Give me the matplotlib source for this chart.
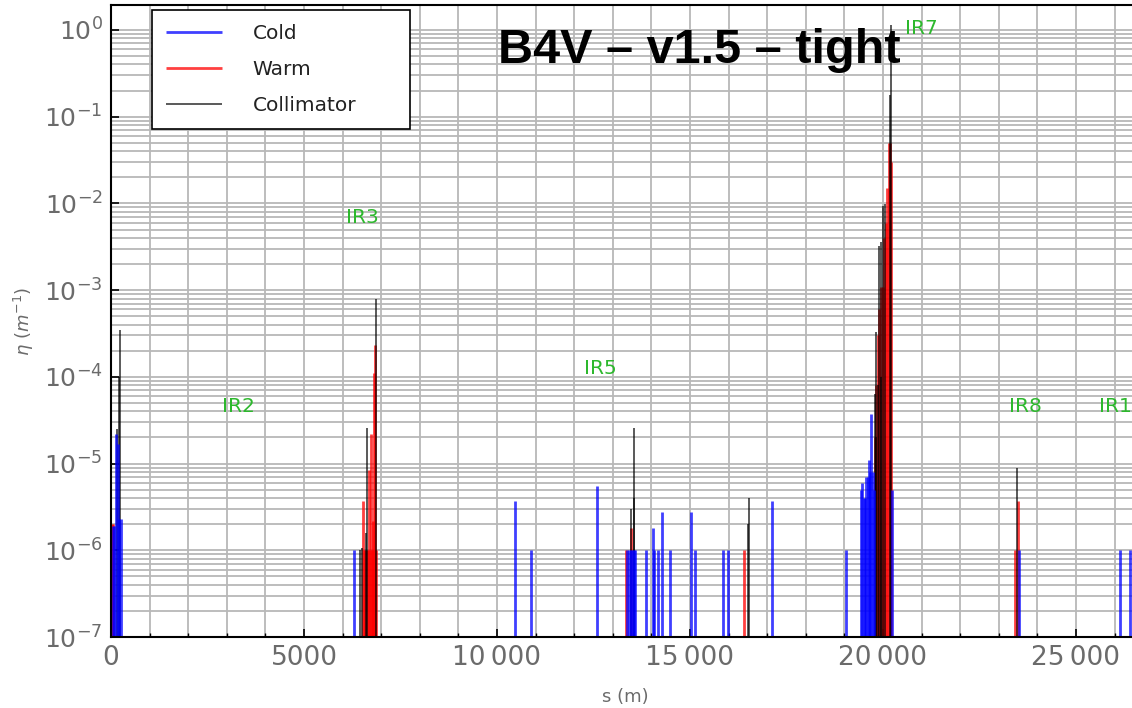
import matplotlib
matplotlib.use('Agg')
import matplotlib.pyplot as plt
from matplotlib.ticker import MultipleLocator, FuncFormatter, LogLocator

# loss positions (m) and local cleaning inefficiency eta (1/m)
cold_s = [50, 90, 140, 170, 220, 250, 6290, 10460, 10890, 12600,
          13380, 13420, 13460, 13500, 13540, 13580, 13850, 14050, 14070, 14170,
          14270, 14480, 15020, 15130, 15860, 15980, 17130, 19040, 19430, 19460,
          19500, 19530, 19570, 19600, 19640, 19670, 19700, 19740, 19770, 20240,
          23520, 26150, 26400]
cold_eta = [1.9e-6, 1.9e-6, 2.2e-5, 1.7e-5, 2.3e-6, 2.3e-6, 1e-6, 3.7e-6, 1e-6, 5.5e-6,
            1e-6, 1e-6, 1e-6, 1e-6, 1e-6, 1e-6, 1e-6, 1.8e-6, 1e-6, 1e-6,
            2.8e-6, 1e-6, 2.8e-6, 1e-6, 1e-6, 1e-6, 3.7e-6, 1e-6, 5e-6, 6e-6,
            4e-6, 4e-6, 7e-6, 7e-6, 1.1e-5, 8e-6, 3.7e-5, 8e-6, 5e-6, 5e-6,
            1e-6, 1e-6, 1e-6]

warm_s = [15, 40, 6540, 6560, 6590, 6620, 6650, 6680, 6710, 6730,
          6760, 6780, 6800, 6820, 6850, 6870, 13340, 13480, 16410, 19790,
          19830, 19870, 19910, 19950, 19990, 20030, 20070, 20110, 20150, 20190,
          20215, 23430, 23500]
warm_eta = [2e-6, 2e-6, 3.7e-6, 1e-6, 1e-6, 1e-6, 1e-6, 8.5e-6, 1e-6, 2.2e-5,
            1e-6, 2.2e-6, 1e-6, 1.1e-4, 2.3e-4, 1e-6, 1e-6, 1.8e-6, 1e-6, 2e-5,
            8e-5, 3e-4, 6e-4, 1.1e-3, 1.1e-3, 4e-3, 6e-3, 1.5e-2, 5e-2, 5e-2,
            3e-2, 1e-6, 3.7e-6]

coll_s = [160, 215, 225, 6450, 6490, 6600, 6640, 6870, 13460, 13540,
          13560, 16500, 16520, 19790, 19810, 19830, 19860, 19900, 19940, 19960,
          20000, 20050, 20180, 20220, 23460]
coll_eta = [2.5e-5, 1e-4, 3.5e-4, 1e-6, 1.05e-6, 1.6e-6, 2.6e-5, 8e-4, 3e-6, 4e-6,
            2.6e-5, 2e-6, 4e-6, 6.3e-5, 2e-5, 3.3e-4, 8e-5, 3.2e-3, 3.6e-3, 1e-4,
            9.3e-3, 9.8e-3, 0.18, 1.15, 9e-6]

ir_names = ['IR2', 'IR3', 'IR5', 'IR7', 'IR8', 'IR1']
ir_s = [3290, 6500, 12690, 20990, 23680, 26010]
ir_eta = [4.6e-5, 6.9e-3, 1.26e-4, 1.05, 4.6e-5, 4.6e-5]

ymin = 1e-7
grey = '#6b6b6b'

fig = plt.figure(figsize=(11.32, 7.08), dpi=100)
ax = fig.add_axes([111/1132, 71/708, 1029/1132, 632/708])

ax.vlines(warm_s, ymin, warm_eta, colors='red', lw=2, alpha=0.75, label='Warm')
ax.vlines(coll_s, ymin, coll_eta, colors='black', lw=1.3, alpha=0.7, label='Collimator')
ax.vlines(cold_s, ymin, cold_eta, colors='blue', lw=2, alpha=0.75, label='Cold')

ax.set_yscale('log')
ax.set_xlim(0, 26659)
ax.set_ylim(ymin, 1.94)

ax.xaxis.set_major_locator(MultipleLocator(5000))
ax.xaxis.set_minor_locator(MultipleLocator(1000))
ax.yaxis.set_major_locator(LogLocator(base=10, numticks=20))
ax.yaxis.set_minor_locator(LogLocator(base=10, subs=range(2, 10), numticks=20))


def sfmt(v, pos):
    n = int(round(v))
    if n >= 10000:
        return f'{n // 1000}\u2009{n % 1000:03d}'
    return str(n)


ax.xaxis.set_major_formatter(FuncFormatter(sfmt))

ax.set_axisbelow(True)
ax.grid(True, which='both', color='#b8b8b8', lw=1.3)
ax.tick_params(which='both', direction='in', top=False, right=False)
ax.tick_params(which='major', length=6, width=1.2, labelsize=19, labelcolor=grey, pad=6)
ax.tick_params(axis='y', which='major', labelsize=18)
ax.tick_params(axis='x', which='minor', length=3, width=1)
ax.tick_params(axis='y', which='minor', length=0)
for sp in ax.spines.values():
    sp.set_linewidth(1.5)

ax.set_xlabel('s (m)', fontsize=13, color=grey, labelpad=12)
ax.set_ylabel(r'$\eta\ (m^{-1})$', fontsize=13, color=grey, labelpad=6)

for name, s, e in zip(ir_names, ir_s, ir_eta):
    ax.text(s, e, name, color='#2db82d', fontsize=14.5, ha='center', va='center')

h, l = ax.get_legend_handles_labels()
order = [2, 0, 1]
leg = ax.legend([h[i] for i in order], [l[i] for i in order],
                loc='upper left', bbox_to_anchor=(0.0398, 0.5, 258/1029, 0.492),
                mode='expand', borderaxespad=0,
                fontsize=14.5, handlelength=2.8, handletextpad=1.5,
                labelspacing=0.85, borderpad=0.7, fancybox=False, framealpha=1)
leg.get_frame().set_edgecolor('black')
leg.get_frame().set_linewidth(1.2)
for t in leg.get_texts():
    t.set_color('#222222')

fig.text(699/1132, 1 - 63/708, 'B4V \u2013 v1.5 \u2013 tight', fontsize=35,
         fontweight='bold', family='Liberation Sans', ha='center', va='baseline')

fig.savefig('out.png', dpi=100)
